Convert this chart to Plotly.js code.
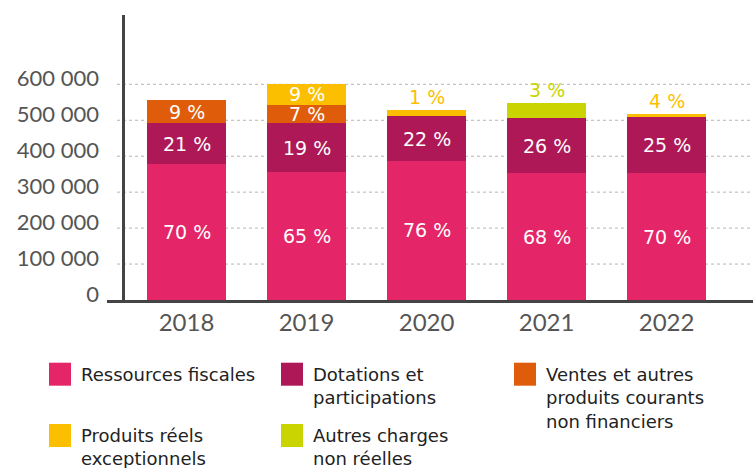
<!DOCTYPE html>
<html>
<head>
<meta charset="utf-8">
<script src="https://cdn.plot.ly/plotly-3.0.1.min.js"></script>
<style>
html,body{margin:0;padding:0;background:#fff;}
#chart{width:753px;height:468px;}
</style>
</head>
<body>
<div id="chart"></div>
<script>
// ---- Data ----
const years = ["2018", "2019", "2020", "2021", "2022"];
const seriesNames = ["Ressources fiscales", "Dotations et participations", "Ventes et autres produits courants non financiers", "Produits réels exceptionnels", "Autres charges non réelles"];
const legendLabels = ["Ressources fiscales", "Dotations et<br>participations", "Ventes et autres<br>produits courants<br>non financiers", "Produits réels<br>exceptionnels", "Autres charges<br>non réelles"];
const ressources = [377800, 355600, 387000, 352800, 352800];
const dotations  = [113900, 136100, 124100, 152800, 155500];
const ventes     = [63900, 50900, 0, 0, 0];
const produits   = [0, 59300, 16700, 0, 9200];
const autres     = [0, 0, 0, 41700, 0];
const pctRessources = ["70 %", "65 %", "76 %", "68 %", "70 %"];
const pctDotations  = ["21 %", "19 %", "22 %", "26 %", "25 %"];
const pctVentes     = ["9 %", "7 %", "", "", ""];
const pctProduits   = ["", "9 %", "1 %", "", "4 %"];
const pctAutres     = ["", "", "", "3 %", ""];
const yTicks = [0, 100000, 200000, 300000, 400000, 500000, 600000];
const yTickText = ["0", "100 000", "200 000", "300 000", "400 000", "500 000", "600 000"];

// ---- Styles ----
const colors = ["#e42567", "#ae1857", "#df5c0b", "#fcbf00", "#c9d400"];
const series = [ressources, dotations, ventes, produits, autres];
const pcts = [pctRessources, pctDotations, pctVentes, pctProduits, pctAutres];
const TICKFONT = "Lato, 'Open Sans', sans-serif";
const TEXTFONT = "'DejaVu Sans', 'Open Sans', sans-serif";

const traces = series.map((vals, i) => ({
  type: "bar",
  x: years,
  y: vals,
  name: seriesNames[i],
  marker: {color: colors[i], line: {width: 0}},
  hoverinfo: "skip"
}));

// pixel -> paper helpers (plot area: x 107..753, y 15..300)
const L = 107, W = 646, T = 15, H = 285;
const px = p => (p - L) / W;
const py = p => (T + H - p) / H;

const annotations = [];
// bar segment labels
years.forEach((yr, j) => {
  let base = 0;
  series.forEach((vals, i) => {
    const v = vals[j];
    const txt = pcts[i][j];
    if (txt) {
      const big = v > 45000;
      annotations.push({
        x: j, xref: "x", yref: "y",
        y: big ? base + v / 2 : base + v,
        yanchor: big ? "middle" : "bottom",
        text: txt, showarrow: false,
        font: {family: TEXTFONT, size: 19, color: big ? "#ffffff" : colors[i]}
      });
    }
    base += v;
  });
});

const shapes = [];
// dotted gridlines
yTicks.slice(1).forEach(t => {
  shapes.push({type: "line", xref: "paper", yref: "y", x0: px(117), x1: 1, y0: t, y1: t,
    line: {color: "#b5b5b5", width: 1, dash: "dot"}, layer: "below"});
});
// vertical axis line
shapes.push({type: "line", xref: "paper", yref: "paper", x0: px(123.5), x1: px(123.5), y0: 0, y1: 1,
  line: {color: "#444444", width: 3}});

// legend
const legPos = [[49, 362.7], [281, 362.7], [514, 362.7], [49, 424], [281, 424]];
legPos.forEach((p, i) => {
  shapes.push({type: "rect", xref: "paper", yref: "paper",
    x0: px(p[0]), x1: px(p[0] + 22), y0: py(p[1]), y1: py(p[1] + 23),
    fillcolor: colors[i], line: {width: 0}});
  annotations.push({xref: "paper", yref: "paper", x: px(p[0] + 30), y: py(p[1] - 1),
    xanchor: "left", yanchor: "top", align: "left", showarrow: false,
    text: legendLabels[i], font: {family: TEXTFONT, size: 18, color: "#222222"}});
});

const layout = {
  width: 753, height: 468,
  margin: {l: L, r: 753 - L - W, t: T, b: 468 - T - H, pad: 0},
  paper_bgcolor: "#ffffff", plot_bgcolor: "#ffffff",
  barmode: "stack", bargap: 0.342,
  showlegend: false,
  font: {family: TICKFONT},
  xaxis: {
    type: "category", range: [-0.6625, 4.72],
    showline: true, linecolor: "#444444", linewidth: 3,
    showgrid: false, zeroline: false, ticks: "",
    ticklabelstandoff: -1,
    tickfont: {family: TICKFONT, size: 24, color: "#555555"}
  },
  yaxis: {
    range: [0, 792800], tickvals: yTicks, ticktext: yTickText,
    showgrid: false, zeroline: false, showline: false, ticks: "",
    ticklabelstandoff: 7, ticklabelshift: -6,
    tickfont: {family: TICKFONT, size: 22, color: "#555555"}
  },
  shapes: shapes,
  annotations: annotations
};

Plotly.newPlot("chart", traces, layout, {staticPlot: true, displayModeBar: false});
</script>
</body>
</html>
